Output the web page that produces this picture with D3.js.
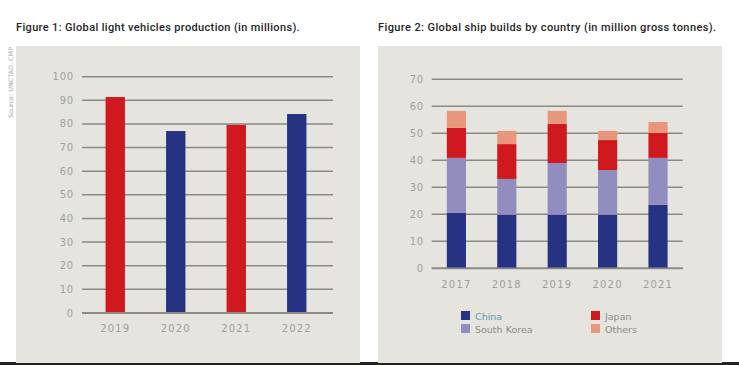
<!DOCTYPE html>
<html>
<head>
<meta charset="utf-8">
<script src="https://d3js.org/d3.v7.min.js"></script>
<style>
  body { margin: 0; background: #fff; }
  svg { display: block; font-family: "DejaVu Sans", sans-serif; }
</style>
</head>
<body>
<svg id="chart"></svg>
<script>
// figure 1 data
var vehicleYears = ["2019", "2020", "2021", "2022"];
var vehicleValues = [91.4, 77.0, 79.6, 84.2];
var vehicleTicks = [0, 10, 20, 30, 40, 50, 60, 70, 80, 90, 100];

// figure 2 data
var shipYears = ["2017", "2018", "2019", "2020", "2021"];
var shipCountries = ["China", "South Korea", "Japan", "Others"];
var chinaValues = [20.5, 19.8, 19.8, 19.8, 23.5];
var koreaValues = [20.4, 13.3, 19.2, 16.6, 17.4];
var japanValues = [11.1, 12.9, 14.5, 11.1, 9.2];
var otherValues = [6.3, 4.9, 4.8, 3.4, 4.1];
var shipTicks = [0, 10, 20, 30, 40, 50, 60, 70];

var red = "#cf191e", navy = "#263383", lavender = "#918dbf", salmon = "#e8977c";
var bg = "#e5e4df", grid = "#8b8984", tickCol = "#a29f9a";

var svg = d3.select("#chart").attr("width", 739).attr("height", 365);

// panels
svg.append("rect").attr("x", 0).attr("y", 362).attr("width", 739).attr("height", 3).attr("fill", "#222");
svg.append("rect").attr("x", 16).attr("y", 46).attr("width", 344).attr("height", 317).attr("fill", bg);
svg.append("rect").attr("x", 378).attr("y", 46).attr("width", 344).attr("height", 317).attr("fill", bg);

// titles
svg.append("text").attr("x", 16).attr("y", 31)
    .attr("font-family", "Roboto, sans-serif")
    .attr("font-size", 11).attr("font-weight", 500).attr("fill", "#262626")
    .attr("letter-spacing", 0.35)
    .text("Figure 1: Global light vehicles production (in millions).");
svg.append("text").attr("x", 378).attr("y", 31)
    .attr("font-family", "Roboto, sans-serif")
    .attr("font-size", 11).attr("font-weight", 500).attr("fill", "#262626")
    .attr("letter-spacing", 0.4)
    .text("Figure 2: Global ship builds by country (in million gross tonnes).");

// source note
svg.append("text")
    .attr("transform", "translate(13,118) rotate(-90)")
    .attr("font-size", 6).attr("fill", "#a8a6a2")
    .attr("textLength", 71).attr("lengthAdjust", "spacingAndGlyphs")
    .text("Source: UNCTAD, CMP");

// ---------- figure 1 ----------
var x1 = d3.scaleBand().domain(vehicleYears).range([85, 327]).paddingInner(0.68).paddingOuter(0.34);
var y1 = d3.scaleLinear().domain([0, 100]).range([313, 76.7]);

var g1 = svg.append("g");
g1.selectAll("line.grid").data(vehicleTicks).enter().append("line")
    .attr("x1", 82).attr("x2", 333)
    .attr("y1", function(d) { return y1(d); }).attr("y2", function(d) { return y1(d); })
    .attr("stroke", grid).attr("stroke-width", 1.5);

g1.selectAll("text.tick").data(vehicleTicks).enter().append("text")
    .attr("x", 74).attr("y", function(d) { return y1(d) + 3.5; })
    .attr("text-anchor", "end").attr("font-size", 10).attr("fill", tickCol)
    .attr("letter-spacing", 0.8)
    .text(function(d) { return d; });

g1.selectAll("rect.bar").data(vehicleValues).enter().append("rect")
    .attr("x", function(d, i) { return x1(vehicleYears[i]); })
    .attr("width", x1.bandwidth())
    .attr("y", function(d) { return y1(d); })
    .attr("height", function(d) { return y1(0) - y1(d); })
    .attr("fill", function(d, i) { return i % 2 == 0 ? red : navy; });

g1.append("line").attr("x1", 82).attr("x2", 333).attr("y1", y1(0)).attr("y2", y1(0))
    .attr("stroke", grid).attr("stroke-width", 1.8);

g1.selectAll("text.year").data(vehicleYears).enter().append("text")
    .attr("x", function(d) { return x1(d) + x1.bandwidth() / 2; }).attr("y", 332)
    .attr("text-anchor", "middle").attr("font-size", 10).attr("fill", tickCol)
    .attr("letter-spacing", 1.2)
    .text(function(d) { return d; });

// ---------- figure 2 ----------
var x2 = d3.scaleBand().domain(shipYears).range([431.7, 682.7]).paddingInner(0.62).paddingOuter(0.3);
var y2 = d3.scaleLinear().domain([0, 70]).range([268.3, 79.3]);

var table = shipYears.map(function(yr, i) {
    return { year: yr, "China": chinaValues[i], "South Korea": koreaValues[i],
             "Japan": japanValues[i], "Others": otherValues[i] };
});
var stack = d3.stack().keys(shipCountries)(table);
var color2 = d3.scaleOrdinal().domain(shipCountries).range([navy, lavender, red, salmon]);

var g2 = svg.append("g");
g2.selectAll("line.grid").data(shipTicks).enter().append("line")
    .attr("x1", 431.7).attr("x2", 682.7)
    .attr("y1", function(d) { return y2(d); }).attr("y2", function(d) { return y2(d); })
    .attr("stroke", grid).attr("stroke-width", 1.5);

g2.selectAll("text.tick").data(shipTicks).enter().append("text")
    .attr("x", 424).attr("y", function(d) { return y2(d) + 3.5; })
    .attr("text-anchor", "end").attr("font-size", 10).attr("fill", tickCol)
    .attr("letter-spacing", 0.8)
    .text(function(d) { return d; });

g2.selectAll("g.layer").data(stack).enter().append("g")
    .attr("fill", function(d) { return color2(d.key); })
  .selectAll("rect").data(function(d) { return d; }).enter().append("rect")
    .attr("x", function(d) { return x2(d.data.year); })
    .attr("width", x2.bandwidth())
    .attr("y", function(d) { return y2(d[1]); })
    .attr("height", function(d) { return y2(d[0]) - y2(d[1]); });

g2.append("line").attr("x1", 431.7).attr("x2", 682.7).attr("y1", y2(0)).attr("y2", y2(0))
    .attr("stroke", grid).attr("stroke-width", 1.8);

g2.selectAll("text.year").data(shipYears).enter().append("text")
    .attr("x", function(d) { return x2(d) + x2.bandwidth() / 2; }).attr("y", 288)
    .attr("text-anchor", "middle").attr("font-size", 10).attr("fill", tickCol)
    .attr("letter-spacing", 1.2)
    .text(function(d) { return d; });

// legend
var legendPos = [[461, 311], [461, 324], [591, 311], [591, 324]];
var legend = g2.selectAll("g.legend").data(shipCountries).enter().append("g")
    .attr("transform", function(d, i) { return "translate(" + legendPos[i][0] + "," + legendPos[i][1] + ")"; });
legend.append("rect").attr("width", 9).attr("height", 9)
    .attr("fill", function(d) { return color2(d); });
legend.append("text").attr("x", 14).attr("y", 8.5)
    .attr("font-size", 9.5).attr("fill", function(d) { return d == "China" ? "#5e9fb0" : "#8f8c88"; })
    .text(function(d) { return d; });
</script>
</body>
</html>
